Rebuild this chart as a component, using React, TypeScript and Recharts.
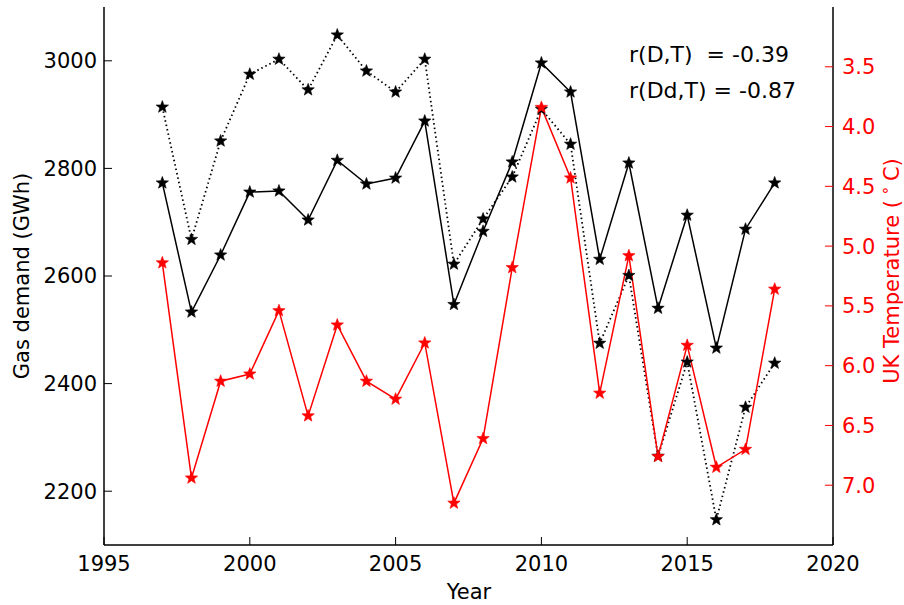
import { Label, Line, LineChart, XAxis, YAxis } from 'recharts'

const YEARS = [
  1997, 1998, 1999, 2000, 2001, 2002, 2003, 2004, 2005, 2006, 2007, 2008, 2009, 2010, 2011, 2012, 2013,
  2014, 2015, 2016, 2017, 2018,
]
const GAS_DEMAND = [
  2773, 2533, 2639, 2756, 2758, 2704, 2815, 2771, 2782, 2888, 2547, 2683, 2812, 2996, 2942, 2631, 2810,
  2540, 2713, 2466, 2687, 2773,
]
const GAS_DEMAND_DD = [
  2914, 2668, 2851, 2975, 3003, 2946, 3048, 2981, 2942, 3003, 2622, 2706, 2784, 2910, 2845, 2475, 2601,
  2265, 2440, 2147, 2356, 2438,
]
const UK_TEMPERATURE = [
  5.14, 6.94, 6.13, 6.07, 5.54, 6.42, 5.66, 6.13, 6.28, 5.81, 7.15, 6.61, 5.18, 3.84, 4.43, 6.23, 5.08,
  6.76, 5.83, 6.85, 6.7, 5.36,
]
const YEAR_TICKS = [1995, 2000, 2005, 2010, 2015, 2020]
const DEMAND_TICKS = [2200, 2400, 2600, 2800, 3000]
const TEMPERATURE_TICKS = [3.5, 4, 4.5, 5, 5.5, 6, 6.5, 7]
const CORRELATIONS = ['r(D,T)  = -0.39', 'r(Dd,T) = -0.87']

const FONT = '"DejaVu Sans", sans-serif'
const FONT_SIZE = 21
const RED = '#ff0000'

const data = YEARS.map((year, index) => ({
  year,
  demand: GAS_DEMAND[index],
  demandDd: GAS_DEMAND_DD[index],
  temperature: UK_TEMPERATURE[index],
}))

function starPath(cx: number, cy: number, outer: number, inner: number) {
  const points: string[] = []
  for (let i = 0; i < 10; i++) {
    const radius = i % 2 === 0 ? outer : inner
    const angle = -Math.PI / 2 + (i * Math.PI) / 5
    points.push(`${(cx + radius * Math.cos(angle)).toFixed(2)},${(cy + radius * Math.sin(angle)).toFixed(2)}`)
  }
  return `M${points.join('L')}Z`
}

function starDot(color: string) {
  return (props: any) => {
    const { cx, cy, index } = props
    if (cx == null || cy == null) return <g key={index} />
    return <path key={index} d={starPath(cx, cy, 6.5, 2.7)} fill={color} stroke={color} strokeWidth={0.6} />
  }
}

const tickStyle = { fontFamily: FONT, fontSize: FONT_SIZE, fill: '#000' }

export default function App() {
  return (
    <div style={{ position: 'absolute', left: 0, top: 0, width: 904, height: 605, background: '#fff' }}>
      <LineChart width={904} height={605} data={data} margin={{ top: 7, right: 0, bottom: 0, left: 0 }}>
        <XAxis
          dataKey="year"
          type="number"
          domain={[1995, 2020]}
          ticks={YEAR_TICKS}
          height={60}
          tickSize={-8}
          tickMargin={19}
          stroke="#000"
          tick={tickStyle}
          axisLine={{ stroke: '#000', strokeWidth: 1.5 }}
          tickLine={{ stroke: '#000' }}
        >
          <Label
            content={() => (
              <text x={469} y={599} textAnchor="middle" fontFamily={FONT} fontSize={FONT_SIZE} fill="#000">
                Year
              </text>
            )}
          />
        </XAxis>
        <XAxis
          xAxisId="top"
          dataKey="year"
          type="number"
          orientation="top"
          domain={[1995, 2020]}
          ticks={YEAR_TICKS}
          height={0}
          tickSize={-8}
          tick={false}
          axisLine={{ stroke: '#000', strokeWidth: 1.5 }}
          tickLine={{ stroke: '#000' }}
        />
        <YAxis
          yAxisId="demand"
          domain={[2100, 3100]}
          ticks={DEMAND_TICKS}
          width={104}
          tickSize={-8}
          tickMargin={15}
          tick={tickStyle}
          axisLine={{ stroke: '#000', strokeWidth: 1.5 }}
          tickLine={{ stroke: '#000' }}
        >
          <Label
            content={() => (
              <g>
                <text
                  x={22}
                  y={276}
                  transform="rotate(-90 22 276)"
                  textAnchor="middle"
                  dominantBaseline="central"
                  fontFamily={FONT}
                  fontSize={FONT_SIZE}
                  fill="#000"
                >
                  Gas demand (GWh)
                </text>
                {CORRELATIONS.map((line, index) => (
                  <text
                    key={line}
                    x={629}
                    y={62 + index * 36}
                    fontFamily={FONT}
                    fontSize={22}
                    fill="#000"
                    style={{ whiteSpace: 'pre' }}
                  >
                    {line}
                  </text>
                ))}
              </g>
            )}
          />
        </YAxis>
        <YAxis
          yAxisId="temp"
          orientation="right"
          reversed
          domain={[3, 7.5]}
          ticks={TEMPERATURE_TICKS}
          width={71}
          tickSize={-8}
          tickMargin={17}
          tickFormatter={(value: number) => value.toFixed(1)}
          tick={{ ...tickStyle, fill: RED }}
          axisLine={{ stroke: '#000', strokeWidth: 1.5 }}
          tickLine={{ stroke: RED }}
        >
          <Label
            content={() => (
              <text
                x={892}
                y={271}
                transform="rotate(-90 892 271)"
                textAnchor="middle"
                dominantBaseline="central"
                fontFamily={FONT}
                fontSize={FONT_SIZE}
                fill={RED}
                style={{ whiteSpace: 'pre' }}
              >
                UK Temperature (
                <tspan fontSize={15} dy={-7}>
                  {' ∘ '}
                </tspan>
                <tspan dy={7}>C)</tspan>
              </text>
            )}
          />
        </YAxis>
        <Line
          yAxisId="demand"
          dataKey="demand"
          stroke="#000"
          strokeWidth={1.5}
          dot={starDot('#000')}
          activeDot={false}
          isAnimationActive={false}
        />
        <Line
          yAxisId="demand"
          dataKey="demandDd"
          stroke="#000"
          strokeWidth={1.8}
          strokeDasharray="1.5 3"
          dot={starDot('#000')}
          activeDot={false}
          isAnimationActive={false}
        />
        <Line
          yAxisId="temp"
          dataKey="temperature"
          stroke={RED}
          strokeWidth={1.5}
          dot={starDot(RED)}
          activeDot={false}
          isAnimationActive={false}
        />
      </LineChart>
    </div>
  )
}
